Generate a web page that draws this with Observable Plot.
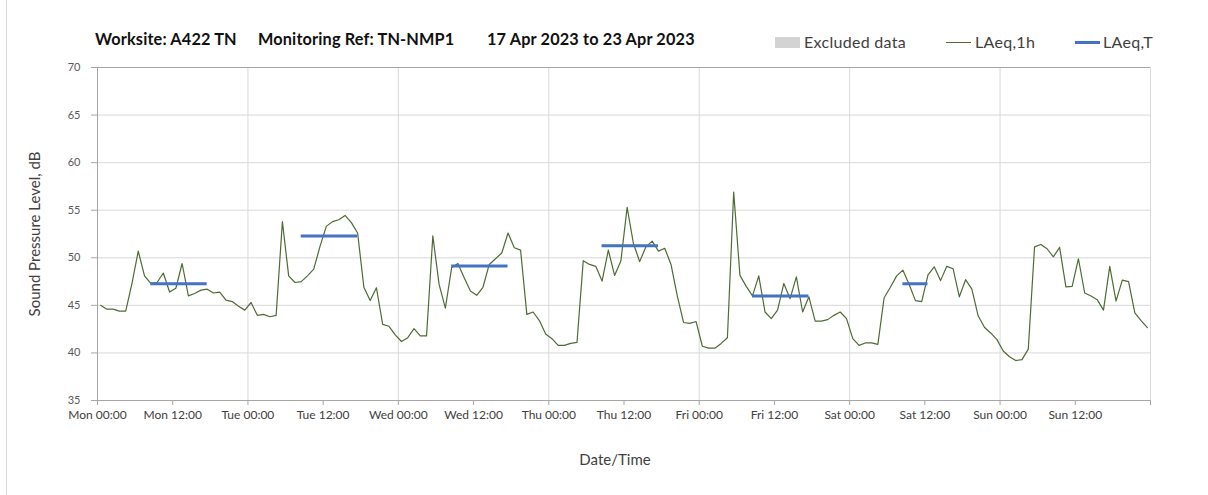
<!DOCTYPE html>
<html><head><meta charset="utf-8">
<script src="https://cdn.jsdelivr.net/npm/d3@7"></script>
<script src="https://cdn.jsdelivr.net/npm/@observablehq/plot@0.6"></script>
<style>
body{margin:0;background:#fff;font-family:Lato,"Open Sans",sans-serif;}
#wrap{position:relative;width:1208px;height:495px;overflow:hidden;}
#edge{position:absolute;left:6px;top:0;width:1px;height:495px;background:#d9d9d9;}
#header{position:relative;height:55px;}
.t{position:absolute;top:29px;font-weight:bold;font-size:16.3px;letter-spacing:0.15px;color:#111;white-space:nowrap;}
.lg{position:absolute;top:32px;font-size:16px;letter-spacing:0.3px;color:#404040;white-space:nowrap;}
.sw{position:absolute;}
#chart svg{display:block;}
#chart g[aria-label="x-axis tick"], #chart g[aria-label="y-axis tick"]{stroke:#a6a6a6;}
#chart g[aria-label="x-axis tick label"] text{fill:#404040;font-size:12px;}
#chart g[aria-label="y-axis tick label"] text{fill:#595959;font-size:11px;}
#chart g[aria-label="x-axis label"] text, #chart g[aria-label="y-axis label"] text{fill:#404040;font-size:15px;}
</style>
</head><body>
<div id="wrap"><div id="edge"></div><div id="header"></div><div id="chart"></div></div>
<script>
// ---- data ----
const titleParts = ["Worksite: A422 TN", "Monitoring Ref: TN-NMP1", "17 Apr 2023 to 23 Apr 2023"];
const legendNames = ["Excluded data", "LAeq,1h", "LAeq,T"];
const periodStartDate = "2023-04-17";
const periodEndDate = "2023-04-24";
const sampleOffsetMinutes = 30;
// hourly LAeq,1h values (dB), Mon 00:00 onward
const laeq1h = [
 45.0,44.6,44.6,44.4,44.4,47.3,50.7,48.1,47.3,47.4,48.4,46.4,46.8,49.4,46.0,46.25,46.6,46.7,46.3,46.4,45.55,45.4,44.9,44.5,
 45.3,43.95,44.05,43.8,43.95,53.8,48.1,47.4,47.5,48.1,48.8,51.2,53.3,53.8,54.0,54.45,53.7,52.6,46.9,45.5,46.85,43.0,42.8,41.9,
 41.2,41.6,42.55,41.8,41.8,52.3,47.2,44.7,48.95,49.4,47.9,46.5,46.05,46.9,49.3,49.9,50.5,52.6,51.05,50.8,44.05,44.3,43.4,42.0,
 41.5,40.8,40.8,41.0,41.1,49.7,49.3,49.1,47.55,50.8,48.15,49.65,55.3,51.5,49.6,51.15,51.75,50.7,51.0,49.3,46.0,43.2,43.1,43.3,
 40.7,40.5,40.5,41.0,41.6,56.9,48.15,47.0,46.0,48.1,44.3,43.6,44.5,47.3,45.7,48.0,44.3,45.9,43.35,43.35,43.5,43.95,44.3,43.6,
 41.5,40.8,41.05,41.05,40.9,45.8,46.9,48.1,48.7,47.2,45.5,45.4,48.2,49.05,47.6,49.1,48.85,45.9,47.7,46.7,43.9,42.7,42.1,41.4,
 40.2,39.6,39.2,39.3,40.4,51.15,51.4,50.95,50.1,51.1,46.95,47.0,49.9,46.3,45.98,45.6,44.5,49.1,45.45,47.65,47.5,44.2,43.4,42.65
];
// LAeq,T periods
const periodDay = [0, 1, 2, 3, 4, 5];
const periodFromHour = [8, 8, 8, 8, 8, 8];
const periodToHour = [17, 17, 17, 17, 17, 12];
const laeqT = [47.27, 52.28, 49.13, 51.26, 45.98, 47.27];
const yTicks = [35, 40, 45, 50, 55, 60, 65, 70];
const yDomain = [35, 70];

// ---- build ----
const t0 = new Date(periodStartDate + "T00:00Z");
const t1 = new Date(periodEndDate + "T00:00Z");
const HOUR = 3600000;
const hourly = laeq1h.map((v, i) => ({t: new Date(+t0 + i * HOUR + sampleOffsetMinutes * 60000), v}));
const periods = periodDay.map((d, i) => ({
  x1: new Date(+t0 + (d * 24 + periodFromHour[i]) * HOUR + sampleOffsetMinutes * 60000),
  x2: new Date(+t0 + (d * 24 + periodToHour[i]) * HOUR + sampleOffsetMinutes * 60000),
  v: laeqT[i]
}));
const xTicks = d3.utcHour.every(12).range(t0, new Date(+t1 + 1));
const dayLines = d3.utcDay.range(new Date(+t0 + 1), new Date(+t1 + 1));
const fmt = d3.utcFormat("%a %H:%M");

// header
const header = document.getElementById("header");
const titleX = [95, 258, 487];
titleParts.forEach((s, i) => {
  const el = document.createElement("div");
  el.className = "t"; el.style.left = titleX[i] + "px"; el.textContent = s;
  header.appendChild(el);
});
const colors = {green: "#4f6b35", blue: "#4472c4", grey: "#d3d3d3"};
const legendLayout = [
  {sx: 775, sw: 25, sy: 37, sh: 11, c: colors.grey, tx: 804},
  {sx: 946, sw: 25, sy: 41.5, sh: 1.3, c: colors.green, tx: 975},
  {sx: 1075, sw: 25, sy: 40.5, sh: 3, c: colors.blue, tx: 1103}
];
legendNames.forEach((n, i) => {
  const L = legendLayout[i];
  const sw = document.createElement("div");
  sw.className = "sw";
  Object.assign(sw.style, {left: L.sx + "px", top: L.sy + "px", width: L.sw + "px", height: L.sh + "px", background: L.c});
  header.appendChild(sw);
  const tx = document.createElement("div");
  tx.className = "lg"; tx.style.left = L.tx + "px"; tx.textContent = n;
  header.appendChild(tx);
});

const chart = Plot.plot({
  width: 1208,
  height: 440,
  marginTop: 12,
  marginBottom: 95,
  marginLeft: 97,
  marginRight: 58,
  style: {fontFamily: "Lato, 'Open Sans', sans-serif", fontSize: "12px", color: "#404040", background: "#fff"},
  x: {type: "utc", domain: [t0, t1]},
  y: {domain: yDomain},
  marks: [
    Plot.ruleY(yTicks.filter(d => d > yDomain[0] && d < yDomain[1]), {stroke: "#d9d9d9", strokeWidth: 1}),
    Plot.ruleX(dayLines, {stroke: "#d9d9d9", strokeWidth: 1}),
    Plot.ruleY([yDomain[1]], {stroke: "#a6a6a6", strokeWidth: 1}),
    Plot.ruleX([t0], {stroke: "#a6a6a6", strokeWidth: 1}),
    Plot.ruleY([yDomain[0]], {stroke: "#a6a6a6", strokeWidth: 1}),
    Plot.axisX({ticks: xTicks, tickFormat: d => +d === +t1 ? "" : fmt(d), tickSize: 5, tickPadding: 5}),
    Plot.text(["Date/Time"], {frameAnchor: "bottom", dy: 64, dx: -9, fontSize: 15, fill: "#404040"}),
    Plot.axisY({ticks: yTicks, tickSize: 6, tickPadding: 11,
      label: "Sound Pressure Level, dB", labelAnchor: "center", labelArrow: "none", labelOffset: 68}),
    Plot.line(hourly, {x: "t", y: "v", stroke: colors.green, strokeWidth: 1.2}),
    Plot.ruleY(periods, {y: "v", x1: "x1", x2: "x2", stroke: colors.blue, strokeWidth: 3})
  ]
});
document.getElementById("chart").appendChild(chart);
</script>
</body></html>
